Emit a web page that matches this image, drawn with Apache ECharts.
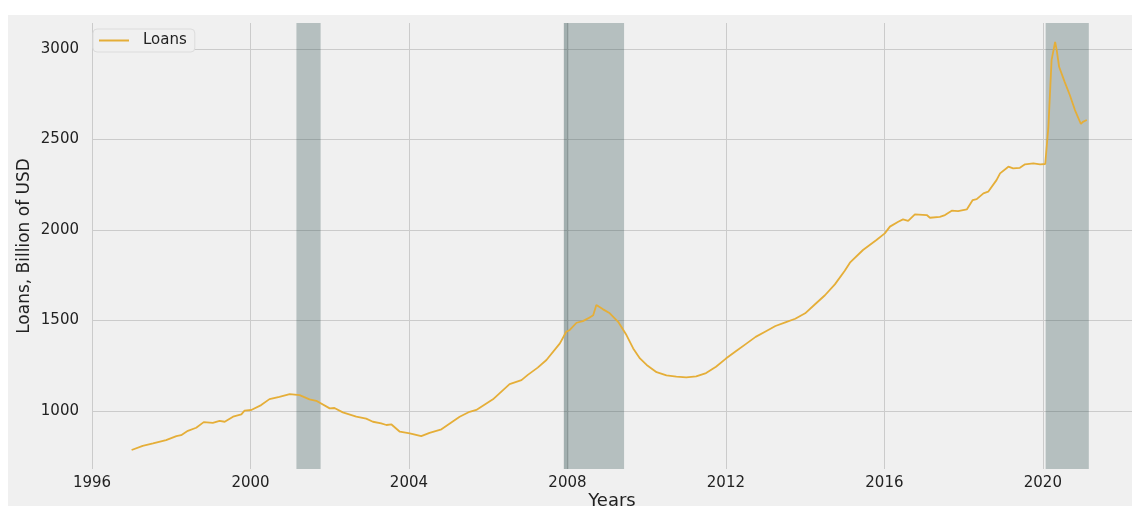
<!DOCTYPE html>
<html>
<head>
<meta charset="utf-8">
<script src="https://cdn.jsdelivr.net/npm/echarts@6/dist/echarts.min.js"></script>
<style>
  html, body { margin: 0; padding: 0; background: #ffffff; }
  #main { position: absolute; left: 8px; top: 15px; width: 1124px; height: 491px; background: #f0f0f0; }
</style>
</head>
<body>
<div id="main"></div>
<script>
// 数据：年份（小数年）与贷款余额（十亿美元）
var years = [1997.0, 1997.28, 1997.54, 1997.87, 1998.13, 1998.25, 1998.42, 1998.63, 1998.82, 1999.05,
  1999.22, 1999.35, 1999.56, 1999.77, 1999.85, 2000.02, 2000.27, 2000.48, 2000.73, 2000.99,
  2001.24, 2001.49, 2001.66, 2002.0, 2002.12, 2002.33, 2002.67, 2002.92, 2003.09, 2003.30,
  2003.43, 2003.56, 2003.77, 2004.02, 2004.31, 2004.52, 2004.82, 2005.28, 2005.53, 2005.70,
  2006.12, 2006.54, 2006.84, 2007.0, 2007.25, 2007.47, 2007.81, 2007.97, 2008.06, 2008.23,
  2008.39, 2008.52, 2008.65, 2008.73, 2008.90, 2009.07, 2009.28, 2009.49, 2009.66, 2009.83,
  2010.0, 2010.25, 2010.5, 2010.75, 2011.0, 2011.25, 2011.5, 2011.75, 2012.0, 2012.25,
  2012.5, 2012.75, 2013.0, 2013.25, 2013.5, 2013.75, 2014.0, 2014.25, 2014.5, 2014.75,
  2015.0, 2015.13, 2015.46, 2015.80, 2016.01, 2016.14, 2016.35, 2016.47, 2016.60, 2016.77,
  2017.07, 2017.15, 2017.40, 2017.53, 2017.70, 2017.86, 2018.08, 2018.23, 2018.33, 2018.50,
  2018.62, 2018.83, 2018.92, 2019.13, 2019.25, 2019.42, 2019.55, 2019.76, 2019.93, 2020.06,
  2020.14, 2020.22, 2020.31, 2020.35, 2020.41, 2020.55, 2020.68, 2020.81, 2020.96, 2021.01,
  2021.11];
var loans = [785, 808, 821, 840, 862, 867, 891, 908, 939, 935,
  946, 941, 969, 982, 1002, 1006, 1033, 1066, 1079, 1094,
  1088, 1065, 1057, 1015, 1017, 993, 969, 958, 941, 932,
  923, 926, 886, 877, 862, 880, 899, 969, 996, 1006,
  1065, 1149, 1171, 1200, 1240, 1282, 1374, 1438, 1448, 1488,
  1497, 1512, 1530, 1586, 1562, 1540, 1493, 1420, 1346, 1291,
  1255, 1215, 1197, 1190, 1186, 1192, 1210, 1245, 1290, 1330,
  1370, 1410, 1440, 1470, 1490, 1510, 1540, 1590, 1640, 1700,
  1775, 1820, 1890, 1945, 1982, 2019, 2046, 2059, 2051, 2087,
  2083, 2068, 2073, 2083, 2107, 2105, 2114, 2166, 2171, 2203,
  2212, 2276, 2313, 2350, 2341, 2344, 2363, 2368, 2363, 2365,
  2571, 2939, 3040, 2994, 2902, 2819, 2746, 2663, 2586, 2598,
  2608];
// 经济衰退区间
var recessions = [[2001.16, 2001.77], [2007.91, 2009.43], [2020.07, 2021.16]];
var overlap = [[2007.91, 2008.03]];

var myChart = echarts.init(document.getElementById('main'));

var seriesData = years.map(function (y, i) { return [y, loans[i]]; });
var areas = recessions.map(function (r) {
  return [{ xAxis: r[0] }, { xAxis: r[1] }];
});
var overlapAreas = overlap.map(function (r) {
  return [{ xAxis: r[0], itemStyle: { color: 'rgba(47,79,79,0.14)' } }, { xAxis: r[1] }];
});
var plain = function (v) { return String(v); };

myChart.setOption({
  backgroundColor: '#f0f0f0',
  animation: false,
  textStyle: { fontFamily: 'DejaVu Sans' },
  grid: { left: 84, right: 0, top: 8, bottom: 37, containLabel: false, outerBoundsMode: 'none' },
  legend: {
    left: 85,
    top: 14,
    data: [{ name: 'Loans', icon: 'rect' }],
    itemWidth: 30,
    itemHeight: 2,
    padding: [4, 8, 4, 6],
    borderColor: '#dcdcdc',
    borderWidth: 1,
    borderRadius: 4,
    backgroundColor: '#f0f0f0',
    textStyle: { fontSize: 15, color: '#222', padding: [0, 0, 0, 9] }
  },
  xAxis: {
    type: 'value',
    min: 1996,
    max: 2022.25,
    interval: 4,
    name: 'Years',
    nameLocation: 'middle',
    nameGap: 23,
    nameMoveOverlap: false,
    nameTextStyle: { fontSize: 18, color: '#222' },
    axisLine: { show: false },
    axisTick: { show: false },
    axisLabel: { fontSize: 15, color: '#222', margin: 7, showMaxLabel: false, formatter: plain },
    splitLine: { show: true, showMaxLine: false, lineStyle: { color: '#cbcbcb', width: 1 } }
  },
  yAxis: {
    type: 'value',
    min: 680,
    max: 3144,
    splitNumber: 5,
    name: 'Loans, Billion of USD',
    nameLocation: 'middle',
    nameRotate: 90,
    nameGap: 59,
    nameMoveOverlap: false,
    nameTextStyle: { fontSize: 17, color: '#222' },
    axisLine: { show: false },
    axisTick: { show: false },
    axisLabel: { fontSize: 15, color: '#222', margin: 13, showMinLabel: false, showMaxLabel: false, formatter: plain },
    splitLine: { show: true, showMinLine: false, showMaxLine: false, lineStyle: { color: '#cbcbcb', width: 1 } }
  },
  series: [
    {
      name: 'Loans',
      type: 'line',
      data: seriesData,
      showSymbol: false,
      z: 3,
      lineStyle: { color: '#e5ae38', width: 1.8 },
      itemStyle: { color: '#e5ae38' },
      markArea: {
        silent: true,
        itemStyle: { color: 'rgba(47,79,79,0.3)' },
        data: areas.concat(overlapAreas)
      }
    }
  ]
});
</script>
</body>
</html>
